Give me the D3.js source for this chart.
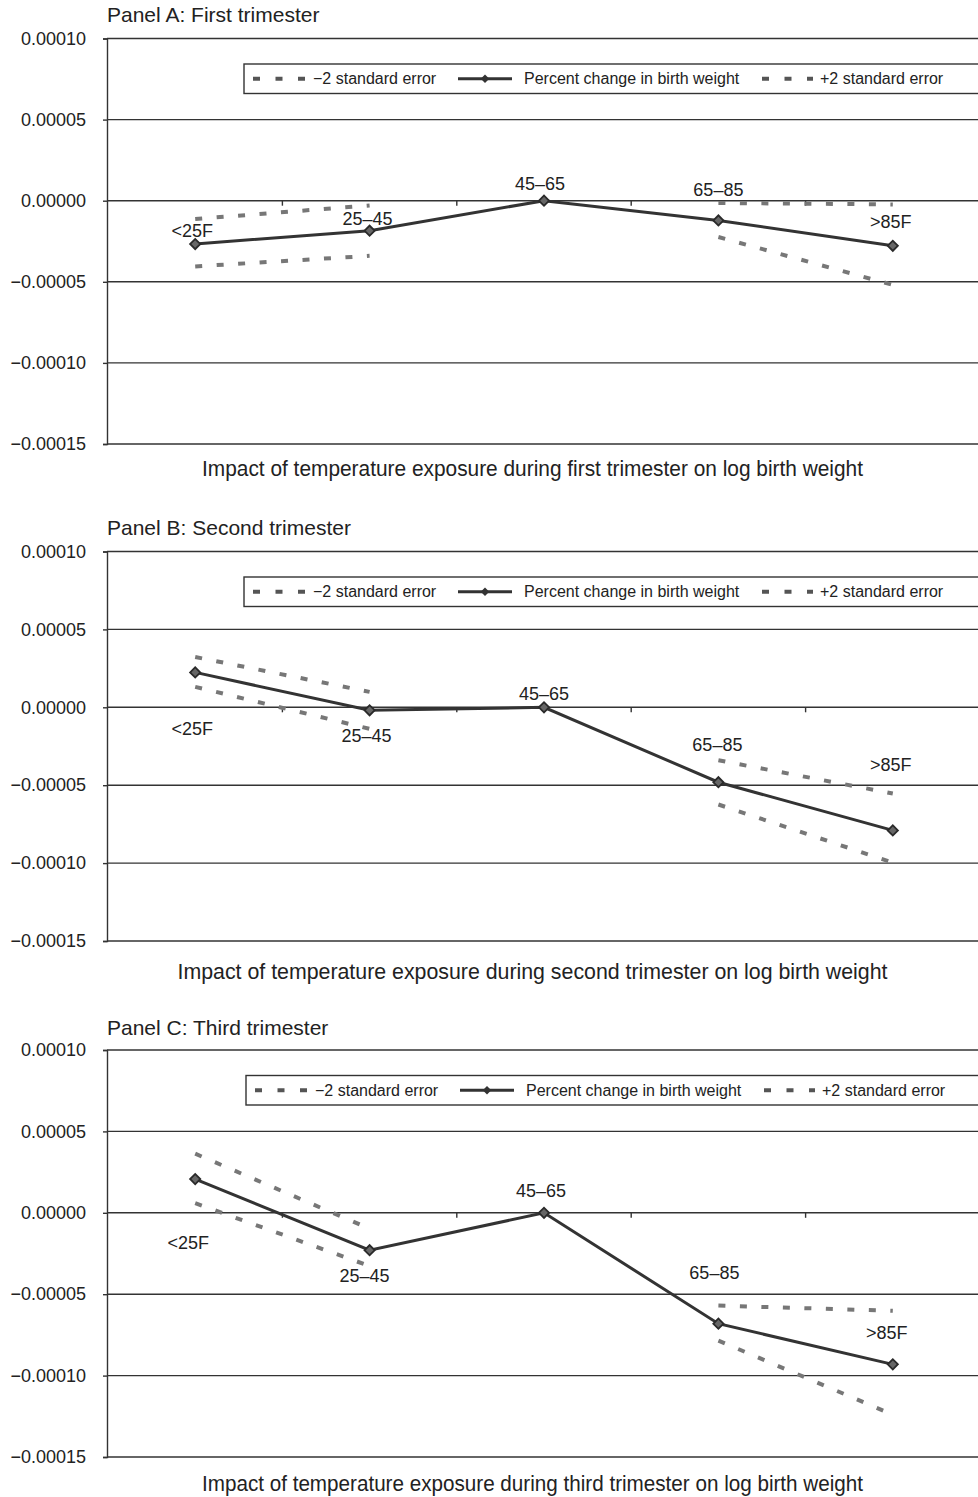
<!DOCTYPE html>
<html><head><meta charset="utf-8">
<script src="https://cdn.jsdelivr.net/npm/d3@7"></script>
<style>body{margin:0;background:#fff} text{font-family:"Liberation Sans",Arial,sans-serif;fill:#222}</style>
</head><body><svg id="c" width="978" height="1497"></svg>
<script>
// ---------- data ----------
const categories = ["<25F", "25–45", "45–65", "65–85", ">85F"];
const yTicks = [0.0001, 0.00005, 0, -0.00005, -0.0001, -0.00015];
const panelTitles = ["Panel A: First trimester", "Panel B: Second trimester", "Panel C: Third trimester"];
const captions = [
  "Impact of temperature exposure during first trimester on log birth weight",
  "Impact of temperature exposure during second trimester on log birth weight",
  "Impact of temperature exposure during third trimester on log birth weight"
];
const legendLabels = ["−2 standard error", "Percent change in birth weight", "+2 standard error"];

const estA   = [-2.67e-5, -1.85e-5, 0, -1.22e-5, -2.78e-5];
const upperA = [-1.13e-5, -0.29e-5, null, -0.14e-5, -0.23e-5];
const lowerA = [-4.05e-5, -3.40e-5, null, -2.24e-5, -5.19e-5];

const estB   = [2.24e-5, -0.19e-5, 0, -4.81e-5, -7.90e-5];
const upperB = [3.23e-5, 0.99e-5, null, -3.40e-5, -5.53e-5];
const lowerB = [1.31e-5, -1.38e-5, null, -6.24e-5, -9.97e-5];

const estC   = [2.07e-5, -2.30e-5, 0, -6.81e-5, -9.31e-5];
const upperC = [3.63e-5, -0.98e-5, null, -5.70e-5, -6.02e-5];
const lowerC = [0.59e-5, -3.27e-5, null, -7.85e-5, -12.40e-5];

// ---------- layout (not data) ----------
const panels = [
  {est: estA, up: upperA, lo: lowerA, top: 38.5, bottom: 444, titleY: 22, capY: 476, legX: 244,
   lab: [[-3,-7],[-2,-6],[-4,-11],[0,-24],[-2,-18]]},
  {est: estB, up: upperB, lo: lowerB, top: 551.5, bottom: 941, titleY: 535, capY: 979, legX: 244,
   lab: [[-3,63],[-3,32],[0,-7],[-1,-31],[-2,-59]]},
  {est: estC, up: upperC, lo: lowerC, top: 1050, bottom: 1457, titleY: 1035, capY: 1491, legX: 246,
   lab: [[-7,70],[-5,32],[-3,-16],[-4,-45],[-6,-25]]}
];
const left = 107, right = 978;

const svg = d3.select("#c");
const xb = d3.scaleBand().domain(categories).range([108, 980]).paddingInner(0).paddingOuter(0);
const xc = c => xb(c) + xb.bandwidth() / 2;
const fmt = d3.format(".5f");
const diamond = d3.symbol(d3.symbolSquare, 52);

panels.forEach((p, pi) => {
  const y = d3.scaleLinear().domain([-0.00015, 0.0001]).range([p.bottom, p.top]);
  const g = svg.append("g");

  // title
  g.append("text").attr("x", left).attr("y", p.titleY).attr("font-size", 21).text(panelTitles[pi]);

  // gridlines
  g.selectAll("line.grid").data(yTicks).join("line")
    .attr("x1", left).attr("x2", right).attr("y1", d => y(d)).attr("y2", d => y(d))
    .attr("stroke", "#333").attr("stroke-width", 1.4);

  // y axis
  const ax = g.append("g").attr("transform", `translate(${left},0)`)
    .call(d3.axisLeft(y).tickValues(yTicks).tickSize(4).tickPadding(17).tickFormat(fmt));
  ax.select(".domain").attr("stroke", "#333").attr("stroke-width", 1.4);
  ax.selectAll(".tick line").attr("stroke", "#333").attr("stroke-width", 1.4);
  ax.selectAll(".tick text").attr("font-size", 18).attr("font-family", "Liberation Sans, Arial, sans-serif").attr("fill", "#222");

  // category ticks on zero line
  g.selectAll("line.ct").data(categories.slice(1)).join("line")
    .attr("x1", d => xb(d)).attr("x2", d => xb(d)).attr("y1", y(0)).attr("y2", y(0) + 5)
    .attr("stroke", "#333").attr("stroke-width", 1.4);

  // legend
  const ly = p.top + 25.5, lh = 29.5, lc = ly + lh / 2, lx = p.legX;
  g.append("rect").attr("x", lx).attr("y", ly).attr("width", right - lx + 20).attr("height", lh)
    .attr("fill", "#fff").attr("stroke", "#333").attr("stroke-width", 1.4);
  g.append("line").attr("x1", lx + 9).attr("x2", lx + 61).attr("y1", lc).attr("y2", lc)
    .attr("stroke", "#555").attr("stroke-width", 4).attr("stroke-dasharray", "7,15.5");
  g.append("text").attr("x", lx + 69).attr("y", lc + 5.5).attr("font-size", 16).text(legendLabels[0]);
  g.append("line").attr("x1", lx + 214).attr("x2", lx + 268).attr("y1", lc).attr("y2", lc)
    .attr("stroke", "#333").attr("stroke-width", 3);
  g.append("path").attr("d", d3.symbol(d3.symbolSquare, 36)())
    .attr("transform", `translate(${lx + 241},${lc}) rotate(45)`).attr("fill", "#333");
  g.append("text").attr("x", lx + 280).attr("y", lc + 5.5).attr("font-size", 16).text(legendLabels[1]);
  g.append("line").attr("x1", lx + 518).attr("x2", lx + 569).attr("y1", lc).attr("y2", lc)
    .attr("stroke", "#555").attr("stroke-width", 4).attr("stroke-dasharray", "7,15.5");
  g.append("text").attr("x", lx + 576).attr("y", lc + 5.5).attr("font-size", 16).text(legendLabels[2]);

  // SE lines
  const line = d3.line().defined(d => d.v != null).x(d => xc(d.c)).y(d => y(d.v));
  [p.up, p.lo].forEach(arr => {
    g.append("path").datum(categories.map((c, i) => ({c, v: arr[i]})))
      .attr("d", line).attr("fill", "none").attr("stroke", "#777").attr("stroke-width", 4)
      .attr("stroke-dasharray", "7,14.5");
  });

  // main line
  const pts = categories.map((c, i) => ({c, v: p.est[i], i}));
  g.append("path").datum(pts).attr("d", line).attr("fill", "none")
    .attr("stroke", "#333").attr("stroke-width", 3);
  g.selectAll("path.mk").data(pts).join("path")
    .attr("d", diamond())
    .attr("transform", d => `translate(${xc(d.c)},${y(d.v)}) rotate(45)`)
    .attr("fill", "#666").attr("stroke", "#2a2a2a").attr("stroke-width", 1.8);

  // category labels
  g.selectAll("text.cl").data(pts).join("text")
    .attr("x", d => xc(d.c) + p.lab[d.i][0]).attr("y", d => y(d.v) + p.lab[d.i][1])
    .attr("text-anchor", "middle").attr("font-size", 18).text(d => d.c);

  // caption
  g.append("text").attr("x", 532.5).attr("y", p.capY).attr("text-anchor", "middle")
    .attr("font-size", 22).attr("textLength", pi === 1 ? 710 : 661).attr("lengthAdjust", "spacingAndGlyphs")
    .text(captions[pi]);
});
</script></body></html>
